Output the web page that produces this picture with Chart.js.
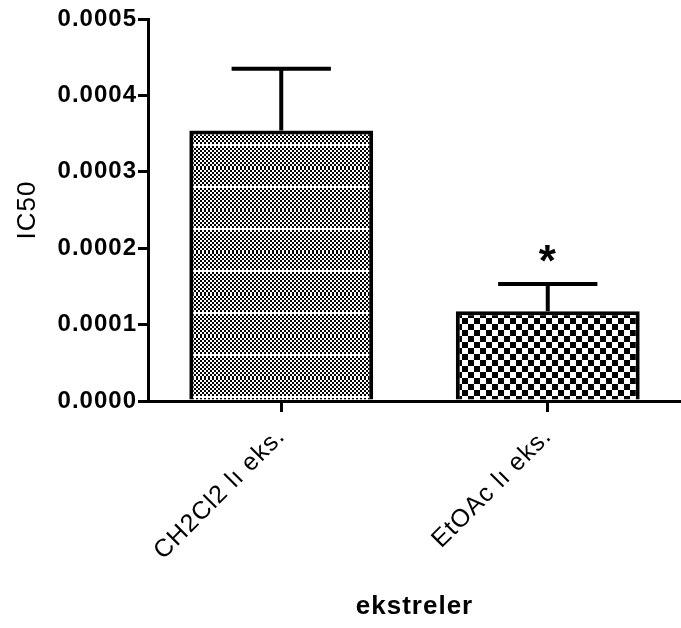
<!DOCTYPE html>
<html>
<head>
<meta charset="utf-8">
<script src="https://cdn.jsdelivr.net/npm/chart.js@4/dist/chart.umd.min.js"></script>
<style>
  html, body { margin: 0; padding: 0; background: #fff; }
  #wrap { position: relative; width: 681px; height: 628px; }
</style>
</head>
<body>
<div id="wrap"><canvas id="chart"></canvas></div>
<script>
'use strict';

// ── Datos ──────────────────────────────────────────────────────────────
const categories = ['CH2Cl2 lı eks.', 'EtOAc lı eks.'];
const ic50Values = [0.000354, 0.0001175];
const ic50Errors = [0.000081, 0.0000355];
const sigMarks   = ['', '*'];
const yTicks     = [0, 0.0001, 0.0002, 0.0003, 0.0004, 0.0005];

const FONT = "'Liberation Sans', Arial, sans-serif";

// ── Tramas de relleno ─────────────────────────────────────────────────
function finePattern() {
  const c = document.createElement('canvas');
  c.width = 4; c.height = 42;
  const g = c.getContext('2d');
  g.fillStyle = '#fff'; g.fillRect(0, 0, 4, 42);
  g.fillStyle = '#000';
  for (let y = 0; y < 42; y += 2) {
    for (let x = 0; x < 4; x += 2) {
      if (((x + y) / 2) % 2 === 0) g.fillRect(x, y, 2, 2);
    }
  }
  g.fillStyle = '#fff';
  g.fillRect(0, 18, 4, 2);
  return g.createPattern(c, 'repeat');
}

function coarsePattern() {
  const c = document.createElement('canvas');
  c.width = 12; c.height = 12;
  const g = c.getContext('2d');
  g.fillStyle = '#fff'; g.fillRect(0, 0, 12, 12);
  g.fillStyle = '#000';
  g.fillRect(0, 0, 6, 6);
  g.fillRect(6, 6, 6, 6);
  return g.createPattern(c, 'repeat');
}

// Texto algo espaciado, como en el original (el resize borra el estado del ctx)
const spacing = {
  id: 'spacing',
  beforeLayout(chart) { chart.ctx.letterSpacing = '1px'; },
  beforeDraw(chart)   { chart.ctx.letterSpacing = '1px'; },
};

// ── Barras de error + asterisco ───────────────────────────────────────
const errorBars = {
  id: 'errorBars',
  afterDatasetsDraw(chart) {
    const ctx  = chart.ctx;
    const yS   = chart.scales.y;
    const meta = chart.getDatasetMeta(0);
    ctx.save();
    ctx.strokeStyle = '#000';
    ctx.lineWidth = 4;
    meta.data.forEach((bar, i) => {
      const top  = yS.getPixelForValue(ic50Values[i]);
      const tip  = yS.getPixelForValue(ic50Values[i] + ic50Errors[i]);
      const half = bar.width * 0.27;
      ctx.beginPath();
      ctx.moveTo(bar.x, top);
      ctx.lineTo(bar.x, tip);
      ctx.moveTo(bar.x - half, tip);
      ctx.lineTo(bar.x + half, tip);
      ctx.stroke();
      if (sigMarks[i]) {
        ctx.fillStyle = '#000';
        ctx.font = `bold 44px ${FONT}`;
        ctx.textAlign = 'center';
        ctx.textBaseline = 'alphabetic';
        ctx.fillText(sigMarks[i], bar.x, tip - 8);
      }
    });
    ctx.restore();
  },
};

new Chart(document.getElementById('chart'), {
  type: 'bar',
  data: {
    labels: categories,
    datasets: [{
      data: ic50Values,
      backgroundColor: [finePattern(), coarsePattern()],
      borderColor: '#000',
      borderWidth: 4,
      borderSkipped: 'bottom',
      categoryPercentage: 0.69,
      barPercentage: 1,
    }],
  },
  options: {
    responsive: true,
    maintainAspectRatio: false,
    animation: false,
    layout: { padding: { top: 19, right: 0, left: 12, bottom: 6 } },
    plugins: { legend: { display: false }, tooltip: { enabled: false } },
    scales: {
      x: {
        afterFit: axis => { axis.height = 221; },
        grid: { display: true, drawOnChartArea: false, offset: false, color: '#000', lineWidth: 3, tickLength: 11 },
        border: { display: true, color: '#000', width: 3 },
        ticks: {
          color: '#000', font: { family: FONT, size: 25 },
          maxRotation: 45, minRotation: 45, padding: 10,
        },
        title: {
          display: true, text: 'ekstreler', color: '#000',
          font: { family: FONT, size: 26, weight: 'bold' }, padding: { top: 10, bottom: 0 },
        },
      },
      y: {
        min: 0, max: 0.0005,
        afterFit: axis => { axis.width = 136; },
        afterBuildTicks: axis => { axis.ticks = yTicks.map(v => ({ value: v })); },
        grid: { display: true, drawOnChartArea: false, color: '#000', lineWidth: 3, tickLength: 10 },
        border: { display: true, color: '#000', width: 3 },
        ticks: {
          color: '#000', font: { family: FONT, size: 24, weight: 'bold' }, padding: 1,
          callback: v => Number(v).toFixed(4),
        },
        title: {
          display: true, text: 'IC50', color: '#000',
          font: { family: FONT, size: 26 }, padding: { top: 0, bottom: 0 },
        },
      },
    },
  },
  plugins: [spacing, errorBars],
});
</script>
</body>
</html>
